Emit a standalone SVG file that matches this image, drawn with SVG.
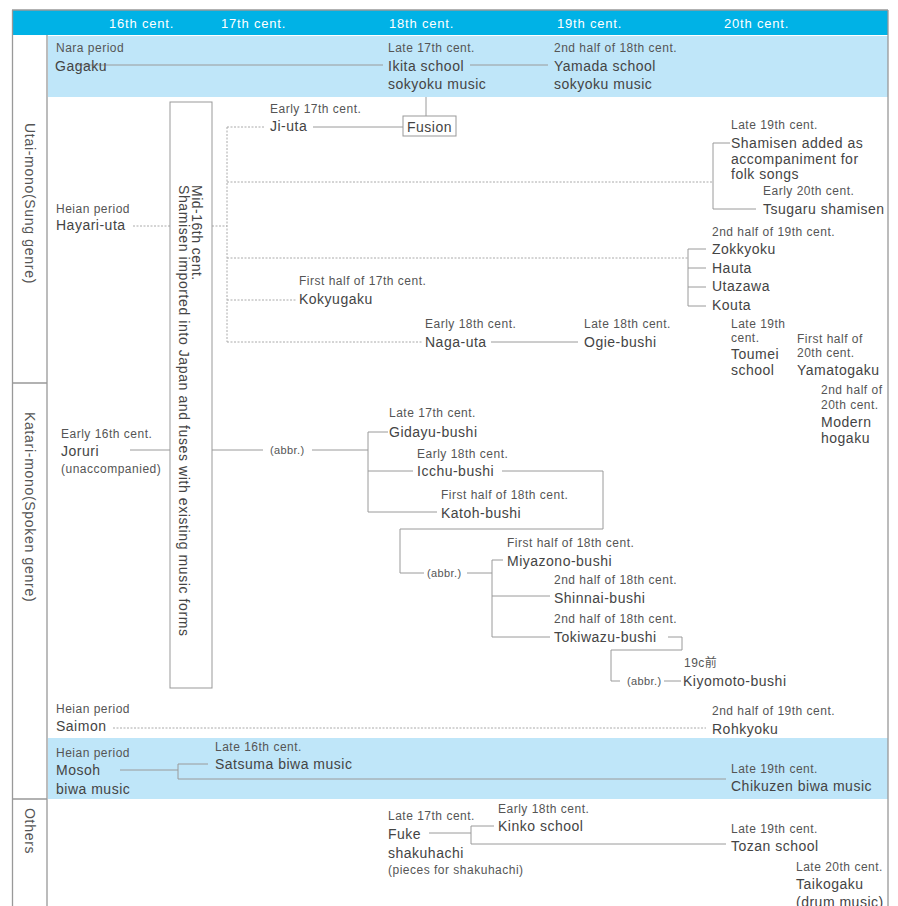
<svg xmlns="http://www.w3.org/2000/svg" width="898" height="906" viewBox="0 0 898 906">
<style>
text{font-family:"Liberation Sans","Noto Sans CJK JP",sans-serif;}
.h{font-size:13px;fill:#fff;letter-spacing:0.8px;}
.m{font-size:14px;fill:#444;letter-spacing:0.5px;}
.s{font-size:12px;fill:#555;letter-spacing:0.5px;}
.a{font-size:11px;fill:#555;letter-spacing:0.4px;}
.r{font-size:14px;fill:#555;letter-spacing:0.7px;}
.ln{fill:none;stroke:#9a9a9a;stroke-width:1;}
.dt{fill:none;stroke:#aaa;stroke-width:1;stroke-dasharray:2 1.5;}
.bd{fill:none;stroke:#999;stroke-width:1.3;}
.band{fill:#bfe6f9;}
</style>
<rect width="898" height="906" fill="#fff"/>
<g id="frame">
<rect x="12" y="10" width="876" height="25" fill="#00b2e6"/>
<rect class="band" x="48" y="36" width="840" height="61"/>
<rect class="band" x="48" y="738" width="840" height="61"/>
<path class="bd" d="M12.5 10 V906 M888 10 V906 M12 10 H888 M47 35 V906 M12 383 H47 M12 799 H47"/>
<text class="h" x="109" y="28">16th cent.</text>
<text class="h" x="221" y="28">17th cent.</text>
<text class="h" x="389" y="28">18th cent.</text>
<text class="h" x="557" y="28">19th cent.</text>
<text class="h" x="724" y="28">20th cent.</text>
<text class="r" transform="translate(25,123) rotate(90)">Utai-mono(Sung genre)</text>
<text class="r" transform="translate(25,412) rotate(90)">Katari-mono(Spoken genre)</text>
<text class="r" transform="translate(25,808) rotate(90)">Others</text>
</g>
<g id="connectors">
<path class="ln" d="M75 65 H383 M470 65 H548 M426 97 V116 M313 127 H403"/>
<path class="dt" d="M133 226 H170 M212 226 H227 M227 127 V342 M227 127 H265 M227 182 H713 M227 258 H688 M227 300 H296 M227 342 H423"/>
<path class="ln" d="M730 143 H713 V209 H756"/>
<path class="ln" d="M706 249 H688 V306 H706 M688 268 H706 M688 287 H706"/>
<path class="ln" d="M491 342 H578"/>
<path class="ln" d="M130 450 H170 M212 450 H263 M312 450 H368"/>
<path class="ln" d="M388 432 H368 V512 H437 M368 471 H413"/>
<path class="ln" d="M502 471 H603 V529 H400 V573 H424 M467 573 H492"/>
<path class="ln" d="M503 560 H492 V637 H550 M492 596 H550"/>
<path class="ln" d="M668 637 H682 V650 H611 V681 H620 M664 681 H681"/>
<path class="dt" d="M113 728 H706"/>
<path class="ln" d="M120 770 H178 M208 764 H178 V779 H726"/>
<path class="ln" d="M429 833 H471 M494 826 H471 V844 H726"/>
</g>
<g id="gagaku"><text class="s" x="56" y="52">Nara period</text><text class="m" x="55" y="71">Gagaku</text></g>
<g id="ikita"><text class="s" x="388" y="52">Late 17th cent.</text><text class="m" x="388" y="71">Ikita school</text><text class="m" x="388" y="89">sokyoku music</text></g>
<g id="yamada"><text class="s" x="554" y="52">2nd half of 18th cent.</text><text class="m" x="554" y="71">Yamada school</text><text class="m" x="554" y="89">sokyoku music</text></g>
<g id="fusion"><rect x="403" y="116" width="53" height="20" fill="#fff" stroke="#999"/><text class="m" x="407" y="132">Fusion</text></g>
<g id="jiuta"><text class="s" x="270" y="113">Early 17th cent.</text><text class="m" x="270" y="131">Ji-uta</text></g>
<g id="shamisen-box"><rect x="170" y="102" width="42" height="586" fill="#fff" stroke="#999"/>
<text class="m" transform="translate(192,185) rotate(90)"><tspan x="0" y="0">Mid-16th cent.</tspan><tspan x="0" dy="13" letter-spacing="0.6">Shamisen imported into Japan and fuses with existing music forms</tspan></text></g>
<g id="hayari"><text class="s" x="56" y="213">Heian period</text><text class="m" x="56" y="230">Hayari-uta</text></g>
<g id="folk"><text class="s" x="731" y="129">Late 19th cent.</text><text class="m" x="731" y="148">Shamisen added as</text><text class="m" x="731" y="164">accompaniment for</text><text class="m" x="731" y="179">folk songs</text></g>
<g id="tsugaru"><text class="s" x="763" y="195">Early 20th cent.</text><text class="m" x="763" y="214">Tsugaru shamisen</text></g>
<g id="zokkyoku"><text class="s" x="712" y="236">2nd half of 19th cent.</text><text class="m" x="712" y="254">Zokkyoku</text><text class="m" x="712" y="273">Hauta</text><text class="m" x="712" y="291">Utazawa</text><text class="m" x="712" y="310">Kouta</text></g>
<g id="kokyugaku"><text class="s" x="299" y="285">First half of 17th cent.</text><text class="m" x="299" y="304">Kokyugaku</text></g>
<g id="nagauta"><text class="s" x="425" y="328">Early 18th cent.</text><text class="m" x="425" y="347">Naga-uta</text></g>
<g id="ogie"><text class="s" x="584" y="328">Late 18th cent.</text><text class="m" x="584" y="347">Ogie-bushi</text></g>
<g id="toumei"><text class="s" x="731" y="328">Late 19th</text><text class="s" x="731" y="342">cent.</text><text class="m" x="731" y="359">Toumei</text><text class="m" x="731" y="375">school</text></g>
<g id="yamatogaku"><text class="s" x="797" y="343">First half of</text><text class="s" x="797" y="357">20th cent.</text><text class="m" x="797" y="375">Yamatogaku</text></g>
<g id="modern"><text class="s" x="821" y="394">2nd half of</text><text class="s" x="821" y="409">20th cent.</text><text class="m" x="821" y="427">Modern</text><text class="m" x="821" y="443">hogaku</text></g>
<g id="joruri"><text class="s" x="61" y="438">Early 16th cent.</text><text class="m" x="61" y="456">Joruri</text><text class="s" x="61" y="473">(unaccompanied)</text></g>
<g id="abbr1"><text class="a" x="270" y="454">(abbr.)</text></g>
<g id="gidayu"><text class="s" x="389" y="417">Late 17th cent.</text><text class="m" x="389" y="437">Gidayu-bushi</text></g>
<g id="icchu"><text class="s" x="417" y="458">Early 18th cent.</text><text class="m" x="417" y="476">Icchu-bushi</text></g>
<g id="katoh"><text class="s" x="441" y="499">First half of 18th cent.</text><text class="m" x="441" y="518">Katoh-bushi</text></g>
<g id="abbr2"><text class="a" x="427" y="577">(abbr.)</text></g>
<g id="miyazono"><text class="s" x="507" y="547">First half of 18th cent.</text><text class="m" x="507" y="566">Miyazono-bushi</text></g>
<g id="shinnai"><text class="s" x="554" y="584">2nd half of 18th cent.</text><text class="m" x="554" y="603">Shinnai-bushi</text></g>
<g id="tokiwazu"><text class="s" x="554" y="623">2nd half of 18th cent.</text><text class="m" x="554" y="642">Tokiwazu-bushi</text></g>
<g id="abbr3"><text class="a" x="627" y="685">(abbr.)</text></g>
<g id="kiyomoto"><text class="s" x="684" y="667">19c前</text><text class="m" x="683" y="686">Kiyomoto-bushi</text></g>
<g id="saimon"><text class="s" x="56" y="713">Heian period</text><text class="m" x="56" y="731">Saimon</text></g>
<g id="rohkyoku"><text class="s" x="712" y="715">2nd half of 19th cent.</text><text class="m" x="712" y="734">Rohkyoku</text></g>
<g id="mosoh"><text class="s" x="56" y="757">Heian period</text><text class="m" x="56" y="775">Mosoh</text><text class="m" x="56" y="794">biwa music</text></g>
<g id="satsuma"><text class="s" x="215" y="751">Late 16th cent.</text><text class="m" x="215" y="769">Satsuma biwa music</text></g>
<g id="chikuzen"><text class="s" x="731" y="773">Late 19th cent.</text><text class="m" x="731" y="791">Chikuzen biwa music</text></g>
<g id="fuke"><text class="s" x="388" y="820">Late 17th cent.</text><text class="m" x="388" y="839">Fuke</text><text class="m" x="388" y="858">shakuhachi</text><text class="s" x="388" y="874">(pieces for shakuhachi)</text></g>
<g id="kinko"><text class="s" x="498" y="813">Early 18th cent.</text><text class="m" x="498" y="831">Kinko school</text></g>
<g id="tozan"><text class="s" x="731" y="833">Late 19th cent.</text><text class="m" x="731" y="851">Tozan school</text></g>
<g id="taikogaku"><text class="s" x="796" y="871">Late 20th cent.</text><text class="m" x="796" y="889">Taikogaku</text><text class="m" x="796" y="907">(drum music)</text></g>
</svg>
